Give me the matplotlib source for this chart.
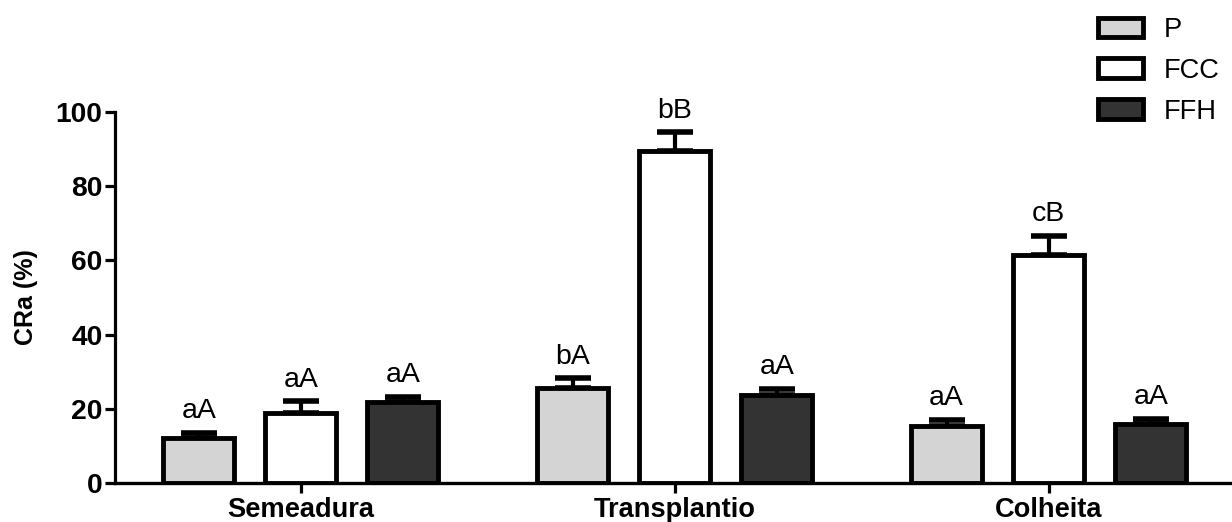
import matplotlib.pyplot as plt
import numpy as np
from matplotlib.patches import Patch

plt.rcParams['font.family'] = ['Liberation Sans', 'DejaVu Sans']

stages = ['Semeadura', 'Transplantio', 'Colheita']
series = ['P', 'FCC', 'FFH']
colors = ['#d4d4d4', '#ffffff', '#333333']

p_vals = [12.0, 25.5, 15.3]
fcc_vals = [19.0, 89.5, 61.5]
ffh_vals = [21.8, 23.8, 15.8]

p_err = [1.5, 2.7, 1.6]
fcc_err = [3.0, 5.0, 5.0]
ffh_err = [1.4, 1.6, 1.4]

p_lab = ['aA', 'bA', 'aA']
fcc_lab = ['aA', 'bB', 'cB']
ffh_lab = ['aA', 'aA', 'aA']

values = [p_vals, fcc_vals, ffh_vals]
errors = [p_err, fcc_err, ffh_err]
letters = [p_lab, fcc_lab, ffh_lab]

fig = plt.figure(figsize=(12.32, 5.22), dpi=100)
ax = fig.add_axes([0.0933, 0.0747, 0.9067, 0.7107])

x = np.arange(len(stages))
width = 0.19
offset = 0.273

for i, name in enumerate(series):
    xs = x + (i - 1) * offset
    ax.errorbar(xs, values[i], yerr=[np.zeros(3), errors[i]], fmt='none',
                ecolor='black', elinewidth=3, capsize=13, capthick=4,
                zorder=1)
    ax.bar(xs, values[i], width=width, color=colors[i], edgecolor='black',
           linewidth=3.5, zorder=2, label=name)
    for xi, v, e, t in zip(xs, values[i], errors[i], letters[i]):
        ax.text(xi, v + e + 4, t, ha='center', va='baseline', fontsize=20.5)

ax.set_xlim(-0.497, 2.49)
ax.set_ylim(0, 100)
ax.set_yticks([0, 20, 40, 60, 80, 100])
ax.set_xticks(x)
ax.set_xticklabels(stages, fontsize=19.6, fontweight='bold')
for lbl in ax.get_yticklabels():
    lbl.set_fontsize(20.3)
    lbl.set_fontweight('bold')
ax.set_ylabel('CRa (%)', fontsize=18, fontweight='bold', labelpad=13)

for side in ['top', 'right']:
    ax.spines[side].set_visible(False)
ax.spines['left'].set_linewidth(2.3)
ax.spines['bottom'].set_linewidth(2.4)
ax.tick_params(axis='y', length=7, width=2.3, pad=2)
ax.tick_params(axis='x', length=7, width=2.3, pad=3)

handles = [Patch(facecolor=c, edgecolor='black', linewidth=3.5) for c in colors]
fig.legend(handles, series, loc='upper left', bbox_to_anchor=(0.876, 1.004),
           frameon=False, fontsize=19.6, handlelength=1.65, handleheight=0.75,
           handletextpad=0.75, labelspacing=0.55, borderaxespad=0.3)

fig.savefig('out.png', dpi=100)
